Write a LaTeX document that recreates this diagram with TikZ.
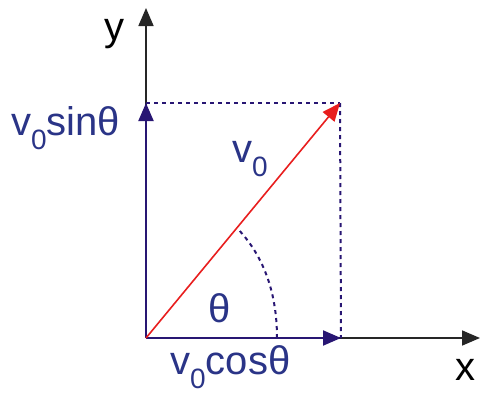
\documentclass[tikz,border=0pt]{standalone}
\usepackage{fontspec}
\setmainfont{Liberation Sans}
\usetikzlibrary{arrows.meta}
\definecolor{axisblue}{RGB}{40,22,115}
\definecolor{txtblue}{RGB}{42,52,135}
\definecolor{vecred}{RGB}{232,30,30}
\newcommand{\lowsub}[1]{\raisebox{-14pt}{\fontsize{28}{28}\selectfont #1}}
\tikzset{
  axis/.style={line width=1.7pt, draw=black!85, -{Triangle[length=18pt,width=15pt]}},
  comp/.style={line width=2pt, draw=axisblue, -{Triangle[length=18pt,width=15pt, fill=axisblue]}},
  vec/.style={line width=1.6pt, draw=vecred, -{Triangle[length=18pt,width=15pt, fill=vecred]}},
  guide/.style={line width=2pt, draw=axisblue, dash pattern=on 4pt off 4pt},
  lbl/.style={inner sep=0pt, anchor=base west, text=txtblue, font=\fontsize{40}{40}\selectfont},
  axlbl/.style={inner sep=0pt, anchor=base west, text=black, font=\fontsize{40}{40}\selectfont}
}
\begin{document}
\begin{tikzpicture}[x=1pt,y=-1pt]
\useasboundingbox (0,0) rectangle (482,394);
\coordinate (O) at (146,338);
\coordinate (Ytip) at (146,8);
\coordinate (Xtip) at (480,338);
\coordinate (Vy) at (146,103);
\coordinate (Vx) at (341,338);
\coordinate (P) at (340,103);
\coordinate (A1) at (277,338);
\coordinate (A2) at (237,228);
% axes
\draw[axis] (O) -- (Ytip);
\draw[axis] (O) -- (Xtip);
% guides
\draw[guide] (Vy) -- (P);
\draw[guide] (P) -- (Vx);
\draw[guide] (A1) .. controls (277,290) and (262,254) .. (A2);
% components
\draw[comp] (O) -- (Vy);
\draw[comp] (O) -- (Vx);
% vector
\draw[vec] (O) -- (P);
% labels
\node[axlbl] (ylab) at (104,40) {y};
\node[axlbl] (xlab) at (455,380) {x};
\node[lbl] (sinlab) at (11,135) {v\lowsub{0}sinθ};
\node[lbl] (coslab) at (170,374) {v\lowsub{0}cosθ};
\node[lbl] (vlab) at (232,162) {v\lowsub{0}};
\node[lbl] (thlab) at (208,322) {θ};
\end{tikzpicture}
\end{document}
